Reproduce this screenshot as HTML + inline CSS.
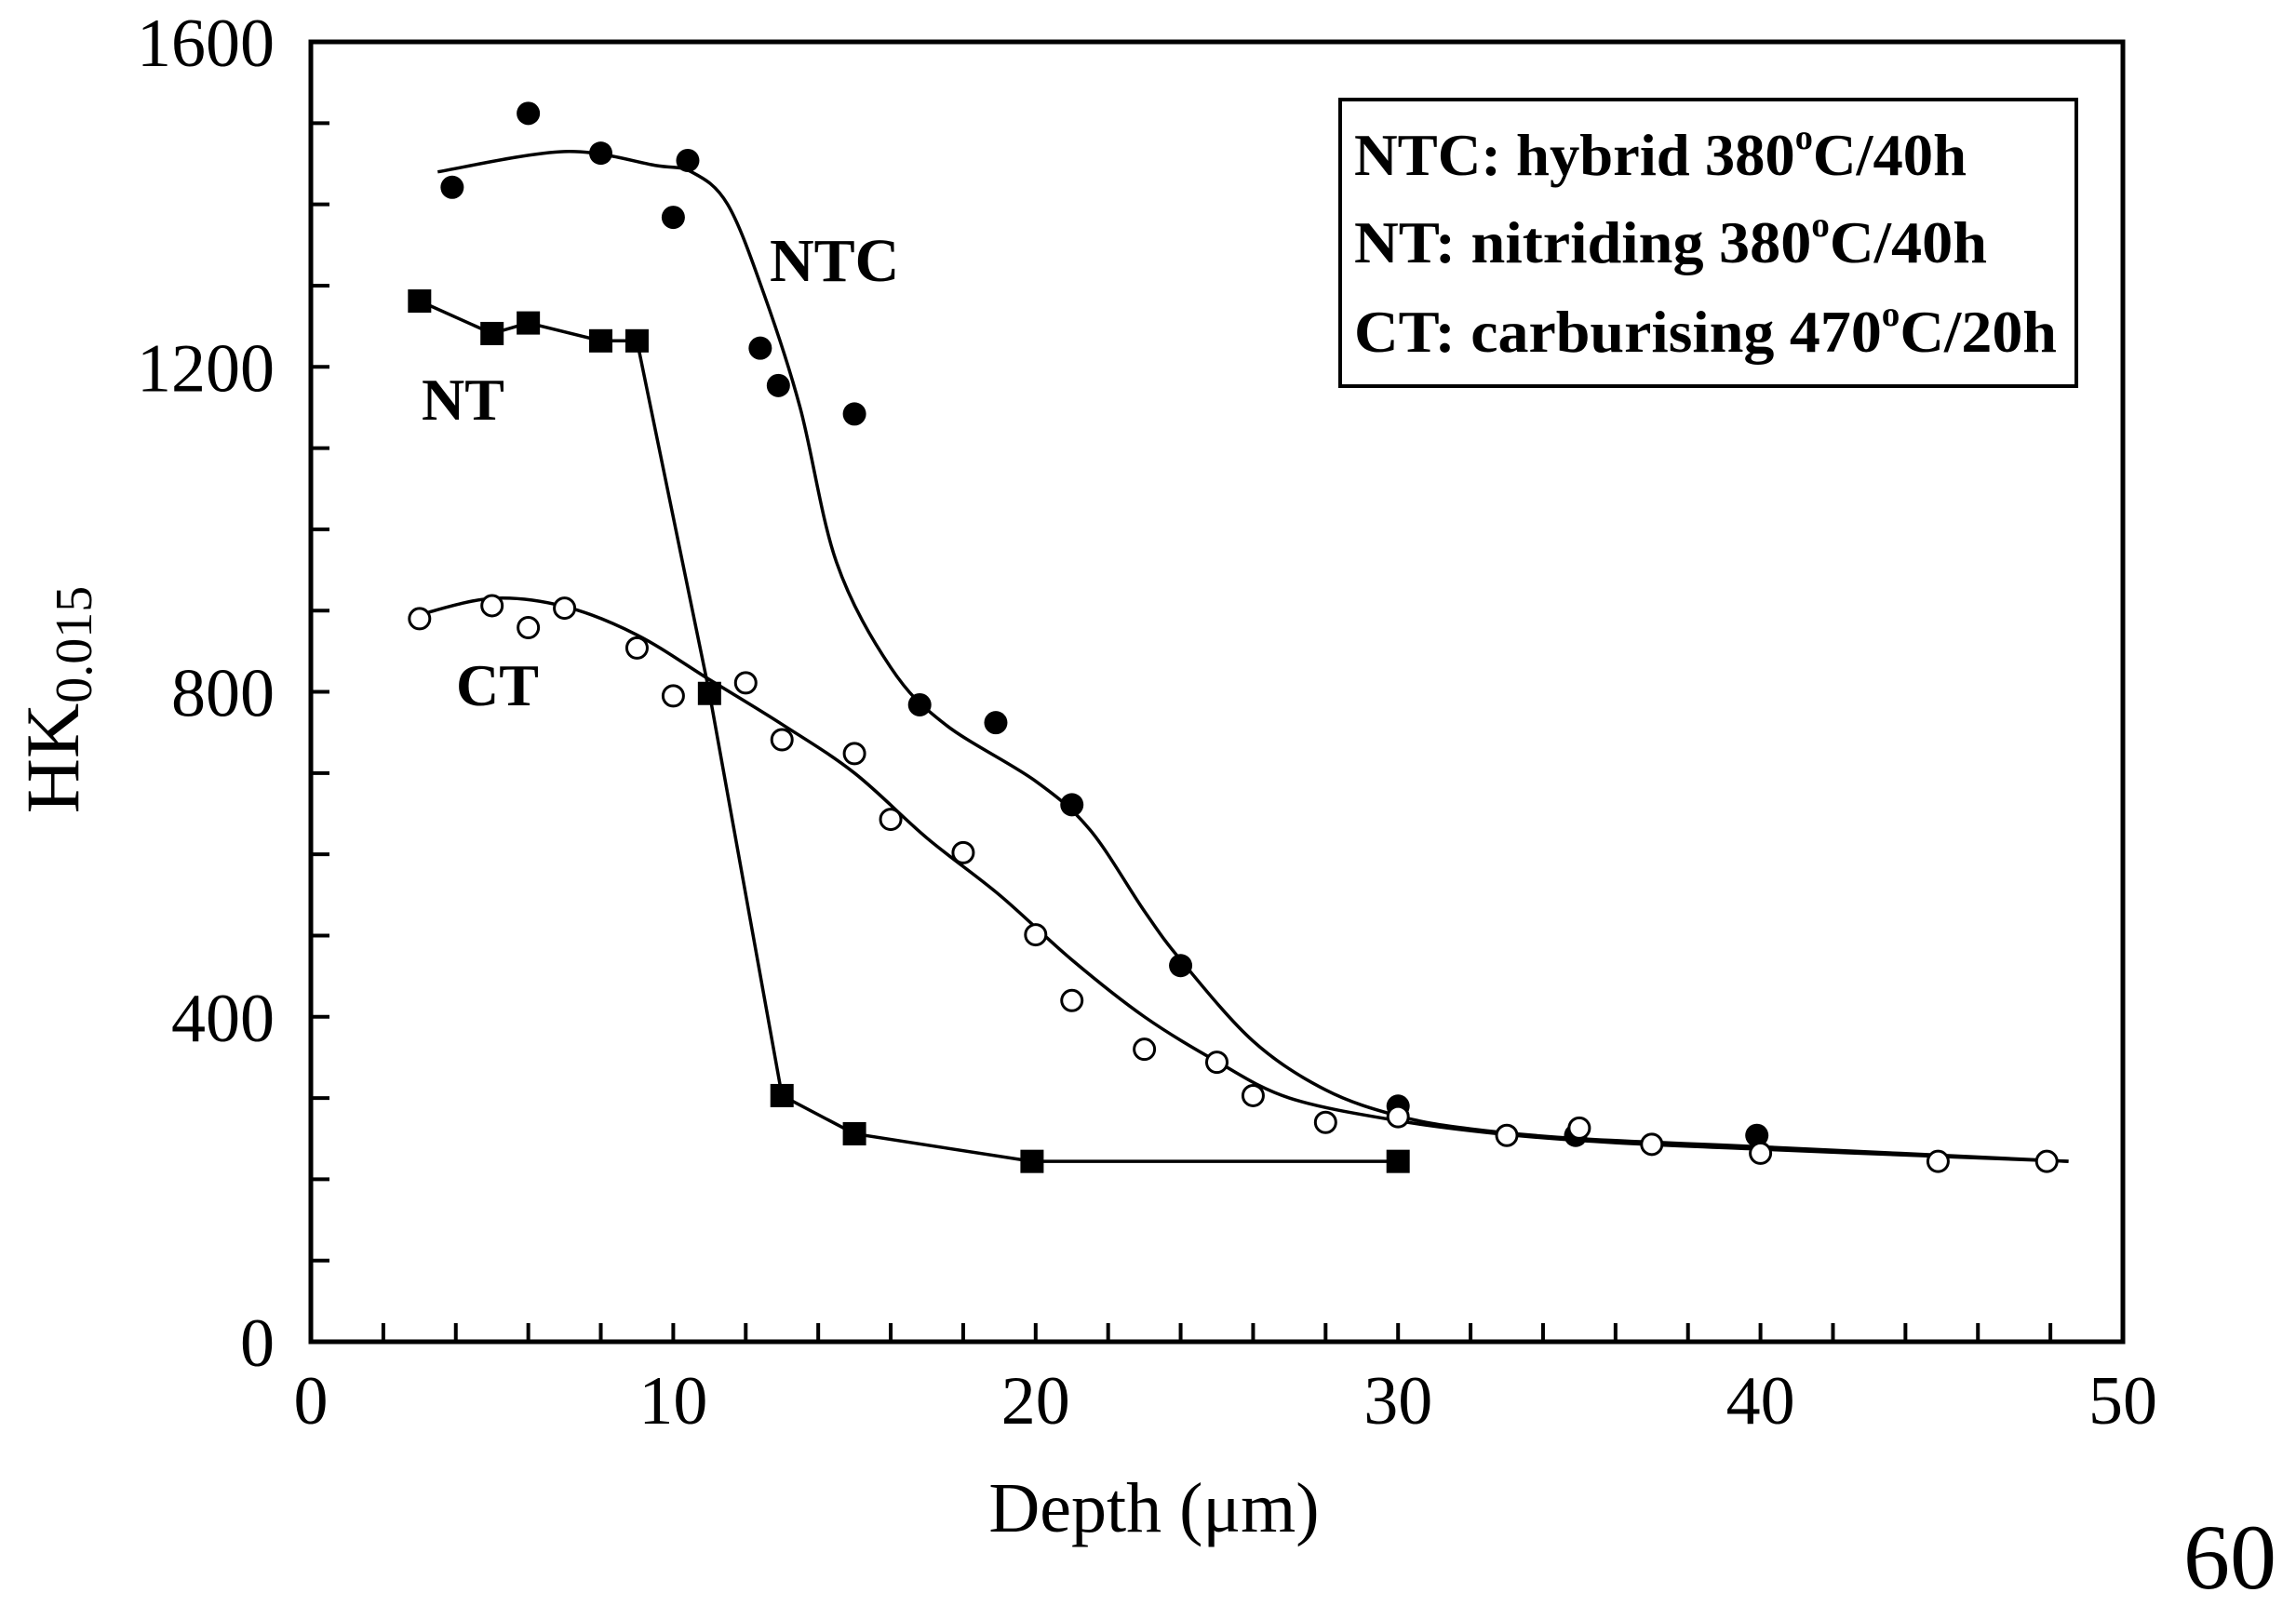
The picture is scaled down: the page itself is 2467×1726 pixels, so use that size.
<!DOCTYPE html>
<html><head><meta charset="utf-8"><style>
html,body{margin:0;padding:0;background:#fff}
svg{display:block}
text{font-family:"Liberation Serif","Times New Roman",serif;fill:#000}
</style></head><body>
<svg id="chart" width="2467" height="1726" viewBox="0 0 2467 1726" xmlns="http://www.w3.org/2000/svg">
<g id="axes"></g>
<g id="series"></g>
<g>
<rect x="1440" y="107" width="791" height="308" fill="#fff" stroke="#000" stroke-width="4"/>
<text x="1455" y="188" font-size="64" font-weight="bold" textLength="658" lengthAdjust="spacingAndGlyphs">NTC: hybrid 380<tspan dy="-28" font-size="38">o</tspan><tspan dy="28">C/40h</tspan></text>
<text x="1455" y="282" font-size="64" font-weight="bold" textLength="680" lengthAdjust="spacingAndGlyphs">NT: nitriding 380<tspan dy="-28" font-size="38">o</tspan><tspan dy="28">C/40h</tspan></text>
<text x="1455" y="378" font-size="64" font-weight="bold" textLength="755" lengthAdjust="spacingAndGlyphs">CT: carburising 470<tspan dy="-28" font-size="38">o</tspan><tspan dy="28">C/20h</tspan></text>
</g>
<text x="827" y="302" font-size="66" font-weight="bold">NTC</text>
<text x="453" y="451" font-size="64" font-weight="bold">NT</text>
<text x="490" y="758" font-size="64" font-weight="bold">CT</text>
<text x="1240" y="1646" font-size="76" text-anchor="middle">Depth (μm)</text>
<text transform="translate(84,752) rotate(-90)" font-size="82" text-anchor="middle">HK<tspan font-size="56" dy="14">0.015</tspan></text>
<text x="2346" y="1707" font-size="100">60</text>
</svg>
<script>
const xTicks=[0,10,20,30,40,50];
const yTicks=[0,400,800,1200,1600];
const ntcX=[3.9,6,8,10,10.4,12.4,12.9,15,16.8,18.9,21,24,30,34.9,39.9];
const ntcY=[1421,1512,1463,1384,1454,1223,1177,1142,784,762,661,463,290,254,254];
const ntcFitX=[3.5,7,9.5,10.5,11.5,12.5,13.5,14.5,16,17.5,20,21.5,23,24,26,28,30,32,35,40,48.5];
const ntcFitY=[1440,1465,1448,1440,1400,1290,1150,960,830,760,690,630,530,470,370,310,278,262,250,240,222];
const ntX=[3,5,6,8,9,11,13,15,19.9,30];
const ntY=[1281,1241,1254,1232,1232,798,303,256,222,222];
const ctX=[3,5,6,7,9,10,12,13,15,16,18,20,21,23,25,26,28,30,33,35,37,40,44.9,47.9];
const ctY=[890,906,879,903,854,795,811,741,724,643,602,501,420,360,344,303,270,277,254,263,243,232,222,222];
const ctFitX=[3,5,7,9,11,13,15,17,19,21,23,25,27,30,33,36,40,45,48.5];
const ctFitY=[895,915,905,870,815,760,700,620,550,470,400,345,300,272,255,245,237,228,222];

const L=334,R=2281,T=45,B=1442;
const X=d=>L+d*(R-L)/50;
const Y=v=>B-v*(B-T)/1600;
const NS="http://www.w3.org/2000/svg";
function mk(tag,parent,attrs){const e=document.createElementNS(NS,tag);for(const k in attrs)e.setAttribute(k,attrs[k]);parent.appendChild(e);return e;}
const ax=document.getElementById('axes'),sr=document.getElementById('series');

const frame=mk('rect',ax,{x:L,y:T,width:R-L,height:B-T,fill:'none',stroke:'#000','stroke-width':5});


for(let d=2;d<50;d+=2){const t=mk('line',ax,{x1:X(d),x2:X(d),y1:B,y2:B-20,stroke:'#000','stroke-width':4});

}
for(let v=100;v<1600;v+=100){const t=mk('line',ax,{x1:L,x2:L+20,y1:Y(v),y2:Y(v),stroke:'#000','stroke-width':4});

}
xTicks.forEach(d=>{const t=mk('text',ax,{x:X(d),y:1530,'font-size':74,'text-anchor':'middle'});t.textContent=d;

});
yTicks.forEach(v=>{const t=mk('text',ax,{x:295,y:Y(v)+26,'font-size':74,'text-anchor':'end'});t.textContent=v;

});

function smooth(xs,ys){const p=xs.map((x,i)=>[X(x),Y(ys[i])]);let d='M'+p[0][0]+','+p[0][1];
for(let i=0;i<p.length-1;i++){const p0=p[i-1]||p[i],p1=p[i],p2=p[i+1],p3=p[i+2]||p2;
const c1=[p1[0]+(p2[0]-p0[0])/6,p1[1]+(p2[1]-p0[1])/6],c2=[p2[0]-(p3[0]-p1[0])/6,p2[1]-(p3[1]-p1[1])/6];
d+=' C'+c1+' '+c2+' '+p2;}return d;}
const ntcLine=mk('path',sr,{d:smooth(ntcFitX,ntcFitY),fill:'none',stroke:'#000','stroke-width':3.5});


const ctLine=mk('path',sr,{d:smooth(ctFitX,ctFitY),fill:'none',stroke:'#000','stroke-width':3.5});


const ntLine=mk('polyline',sr,{points:ntX.map((x,i)=>X(x)+','+Y(ntY[i])).join(' '),fill:'none',stroke:'#000','stroke-width':3.5});



ntcX.forEach((x,i)=>{const c=mk('circle',sr,{cx:X(x),cy:Y(ntcY[i]),r:12.5,fill:'#000'});

});
ntX.forEach((x,i)=>{const c=mk('rect',sr,{x:X(x)-12.5,y:Y(ntY[i])-12.5,width:25,height:25,fill:'#000'});

});
ctX.forEach((x,i)=>{const c=mk('circle',sr,{cx:X(x),cy:Y(ctY[i]),r:11,fill:'#fff',stroke:'#000','stroke-width':3});

});
</script>
</body></html>
